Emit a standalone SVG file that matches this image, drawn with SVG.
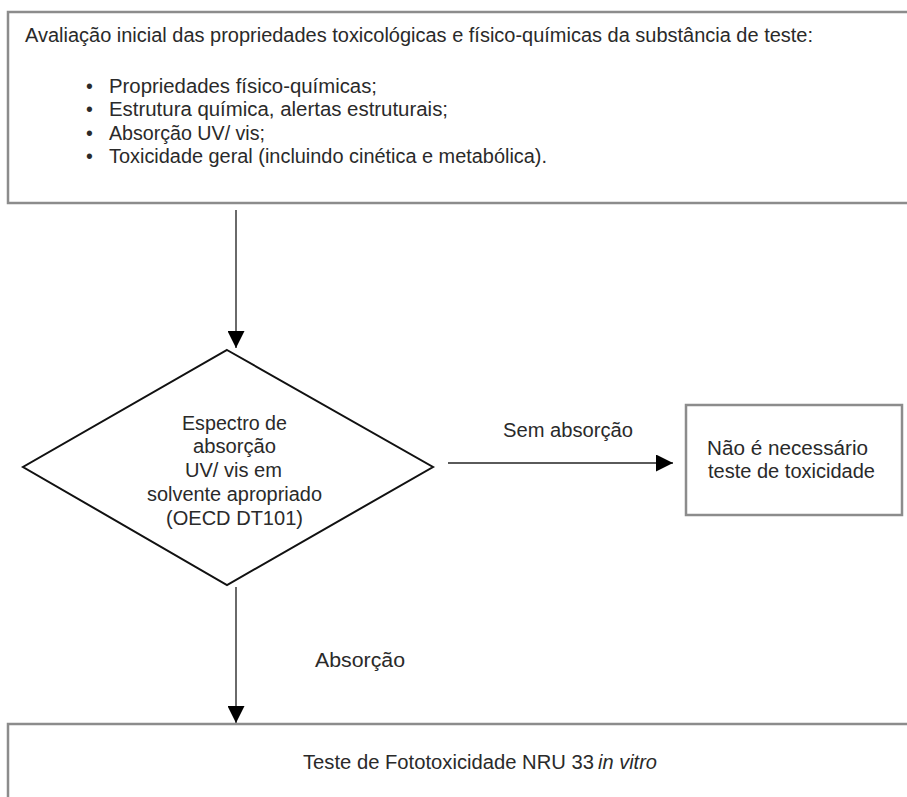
<svg xmlns="http://www.w3.org/2000/svg" width="907" height="797" viewBox="0 0 907 797">
  <defs>
    <style>
      .box { fill: #ffffff; stroke: #8c8c8c; stroke-width: 2.5; }
      .dia { fill: #ffffff; stroke: #111111; stroke-width: 2; }
      .edge { fill: none; stroke: #5a5a5a; stroke-width: 1.8; }
      .t { font-family: "Liberation Sans", Arial, sans-serif; font-size: 19.5px; fill: #2a2a2a; }
      .it { font-style: italic; }
    </style>
    <marker id="ah" viewBox="0 0 10 10" refX="10" refY="5" markerWidth="17" markerHeight="17" markerUnits="userSpaceOnUse" orient="auto">
      <path d="M0,0 L10,5 L0,10 Z" fill="#000000"/>
    </marker>
  </defs>
  <rect width="907" height="797" fill="#ffffff"/>

  <g id="edges">
    <line class="edge" x1="236" y1="210" x2="236" y2="348" marker-end="url(#ah)"/>
    <line class="edge" x1="448" y1="463" x2="673" y2="463" marker-end="url(#ah)"/>
    <text class="t" x="503" y="437" textLength="130" lengthAdjust="spacingAndGlyphs">Sem absorção</text>
    <line class="edge" x1="236" y1="587" x2="236" y2="723" marker-end="url(#ah)"/>
    <text class="t" x="315" y="667" textLength="90" lengthAdjust="spacingAndGlyphs">Absorção</text>
  </g>

  <g id="node-avaliacao">
    <rect class="box" x="8" y="12" width="910" height="191"/>
    <text class="t" x="25" y="42" textLength="788" lengthAdjust="spacingAndGlyphs">Avaliação inicial das propriedades toxicológicas e físico-químicas da substância de teste:</text>
    <text class="t" x="86" y="93">•</text>
    <text class="t" x="109" y="93" textLength="268" lengthAdjust="spacingAndGlyphs">Propriedades físico-químicas;</text>
    <text class="t" x="86" y="116">•</text>
    <text class="t" x="109" y="116" textLength="339" lengthAdjust="spacingAndGlyphs">Estrutura química, alertas estruturais;</text>
    <text class="t" x="86" y="140">•</text>
    <text class="t" x="109" y="140" textLength="156" lengthAdjust="spacingAndGlyphs">Absorção UV/ vis;</text>
    <text class="t" x="86" y="163">•</text>
    <text class="t" x="109" y="163" textLength="438" lengthAdjust="spacingAndGlyphs">Toxicidade geral (incluindo cinética e metabólica).</text>
  </g>

  <g id="node-espectro">
    <polygon class="dia" points="227,350 433,467 227,585 23,467"/>
    <text class="t" x="182" y="430" textLength="105" lengthAdjust="spacingAndGlyphs">Espectro de</text>
    <text class="t" x="193" y="453" textLength="83" lengthAdjust="spacingAndGlyphs">absorção</text>
    <text class="t" x="185" y="477" textLength="97" lengthAdjust="spacingAndGlyphs">UV/ vis em</text>
    <text class="t" x="147" y="501" textLength="175" lengthAdjust="spacingAndGlyphs">solvente apropriado</text>
    <text class="t" x="166" y="525" textLength="137" lengthAdjust="spacingAndGlyphs">(OECD DT101)</text>
  </g>

  <g id="node-nao-necessario">
    <rect class="box" x="686" y="405" width="216" height="110"/>
    <text class="t" x="707" y="455" textLength="161" lengthAdjust="spacingAndGlyphs">Não é necessário</text>
    <text class="t" x="708" y="478" textLength="167" lengthAdjust="spacingAndGlyphs">teste de toxicidade</text>
  </g>

  <g id="node-fototoxicidade">
    <rect class="box" x="8" y="724" width="910" height="90"/>
    <text class="t" x="303" y="769" textLength="291" lengthAdjust="spacingAndGlyphs">Teste de Fototoxicidade NRU 33</text>
    <text class="t it" x="598" y="769" textLength="59" lengthAdjust="spacingAndGlyphs">in vitro</text>
  </g>
</svg>
